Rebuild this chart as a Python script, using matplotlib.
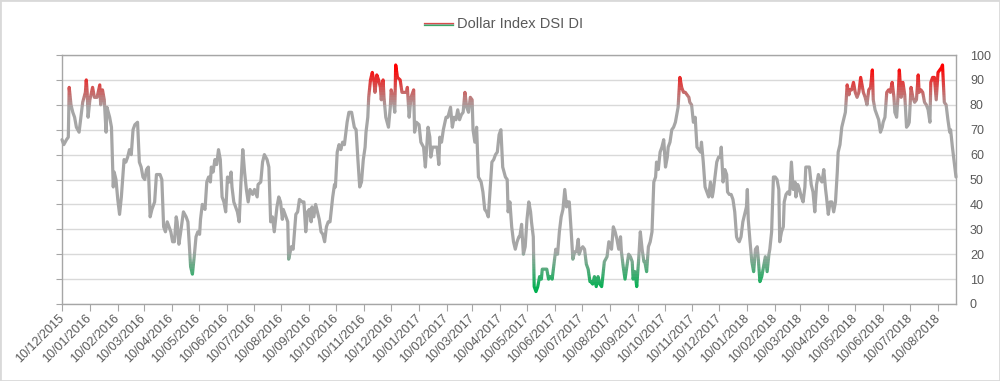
import pandas as pd
import matplotlib
matplotlib.use('Agg')
import matplotlib.pyplot as plt
import matplotlib.dates as mdates
from matplotlib.colors import LinearSegmentedColormap
from matplotlib.transforms import Bbox, TransformedBbox
from matplotlib.patches import Rectangle
from matplotlib.lines import Line2D

plt.rcParams['font.family'] = ['Liberation Sans', 'DejaVu Sans']

# serie: dias desde 10/12/2015 e valor do indice
start_date = '2015-12-10'

day_offset = [
    0, 2, 5, 7, 8, 10, 12, 14, 16, 19, 21, 23, 26, 27, 28, 29, 31, 34, 36, 39, 42, 43, 45, 47, 49, 50, 53, 55,
    57, 58, 60, 62, 64, 66, 69, 71, 73, 75, 77, 79, 81, 84, 86, 88, 90, 92, 94, 96, 98, 100, 103, 105, 109, 111,
    113, 115, 117, 119, 121, 123, 125, 127, 128, 130, 132, 135, 138, 140, 142, 143, 145, 147, 149, 151, 153, 154,
    156, 159, 161, 163, 165, 166, 168, 170,
    172, 174, 176, 178, 180, 182, 184, 186, 188, 189, 191, 193, 195, 197, 199, 201, 203, 205, 207, 209, 212, 214,
    217, 218, 221, 223, 225, 228, 230, 232, 234, 236, 239, 241, 243, 245, 246, 248, 251, 252, 255, 257, 260, 262,
    264, 267, 269, 271, 273, 275, 277, 278, 280, 282, 284, 286, 288, 290, 292, 294, 296, 298, 301, 303, 304, 306,
    308, 310, 312, 314, 317, 319, 322, 325, 327, 329, 331, 333, 335, 337,
    338, 340, 341, 343, 345, 347, 348, 350, 352, 354, 355, 357, 358, 360, 363, 365, 366, 368, 370, 371, 373, 376,
    378, 380, 383, 384, 386, 388, 391, 392, 394, 397, 399, 402, 404, 407, 409, 410, 412, 414, 417, 419, 420, 422,
    424, 427, 429, 432, 434, 436, 438, 440, 442, 444, 446, 448, 450, 452, 454, 456, 457, 459, 461, 463, 466, 468,
    470, 472, 474, 476, 478, 480, 482, 484, 486, 488, 490, 493, 495, 496, 498, 500, 502, 504,
    506, 508, 509, 511, 513, 515, 517, 519, 521, 522, 524, 525, 527, 529, 531, 533, 534, 536, 539, 541, 543, 545,
    548, 549, 551, 553, 555, 557, 559, 561, 562, 564, 566, 568, 570, 572, 574, 575, 577, 579, 581, 583, 585, 587,
    588, 590, 592, 594, 596, 598, 600, 601, 603, 606, 608, 610, 611, 613, 615, 617, 619, 621, 622, 624, 626, 628,
    630, 632, 634, 635, 637, 639, 641, 643, 645, 647, 648, 650, 652, 654, 656, 658, 660, 661, 663, 665, 667, 669,
    671,
    673, 674, 676, 678, 680, 682, 684, 685, 687, 689, 691, 693, 695, 697, 698, 700, 702, 704, 706, 708, 710, 711,
    713, 715, 717, 719, 721, 723, 724, 726, 728, 730, 732, 733, 735, 737, 739, 740, 742, 744, 746, 748, 750, 751,
    753, 755, 757, 759, 761, 762, 763, 765, 767, 769, 771, 773, 774, 776, 778, 780, 782, 784, 786, 787, 789, 791,
    793, 795, 797, 798, 800, 802, 803, 805, 807, 809, 811, 813, 815, 816, 818, 820, 822, 824, 826, 827, 829, 831,
    833, 835, 837,
    839, 841, 843, 845, 847, 849, 850, 852, 854, 856, 858, 860, 862, 863, 865, 867, 869, 871, 873, 875, 876, 878,
    880, 882, 884, 886, 888, 889, 891, 893, 895, 897, 899, 901, 902, 904, 906, 908, 910, 912, 913, 915, 917, 919,
    921, 923, 925, 926, 928, 930, 931, 933, 935, 937, 939, 941, 942, 944, 946, 948, 950, 952, 953, 955, 957, 959,
    961, 963, 965, 966, 968, 970, 972, 974, 976, 978, 979, 981, 983, 985, 987, 988, 990, 992, 994,
]

dsi = [
    66, 64, 66, 67, 87, 80, 77, 75, 71, 69, 75, 81, 85, 90, 85, 75, 82, 87, 83, 83, 88, 80, 86, 82, 69, 79, 75, 71,
    47, 53, 50, 42, 36, 43, 58, 57, 59, 62, 60, 70, 72, 73, 57, 55, 51, 50, 54, 55, 35, 38, 41, 52, 52, 50,
    31, 29, 33, 31, 29, 25, 25, 35, 33, 24, 29, 37, 35, 33, 21, 15, 12, 19, 27, 29, 28, 34,
    40, 38, 49, 51, 49, 55, 53, 58,
    56, 62, 58, 43, 41, 37, 51, 49, 53, 47, 41, 39, 37, 33, 49, 62, 53, 46, 41, 46, 44, 46,
    43, 48, 49, 57, 60, 58, 55, 33, 35, 29, 39, 43, 41, 34, 38, 36, 33, 18, 23, 22, 36, 37,
    42, 41, 41, 29, 37, 38, 33, 39, 35, 40, 37, 34, 29, 28, 25, 31, 33, 33, 43, 48, 47, 61,
    64, 62, 65, 64, 73, 77, 77, 71, 70, 58, 47, 49, 58, 63,
    69, 75, 83, 90, 93, 89, 85, 92, 90, 87, 82, 90, 83, 75, 71, 79, 86, 83, 77, 96, 91, 90,
    85, 85, 85, 87, 75, 83, 86, 69, 73, 72, 65, 63, 55, 71, 67, 59, 63, 63, 63, 56, 67, 65,
    70, 75, 75, 79, 71, 75, 74, 78, 74, 76, 77, 85, 79, 77, 83, 82, 70, 65, 71, 51, 49, 45,
    38, 37, 35, 46, 57, 58, 60, 61, 68, 70, 55, 51, 50, 37, 41, 31, 25, 22,
    25, 27, 27, 32, 20, 23, 34, 41, 37, 33, 27, 7, 5, 7, 11, 10, 14, 14, 14, 10, 11, 10,
    19, 22, 20, 29, 35, 38, 46, 39, 41, 41, 30, 18, 21, 21, 26, 20, 22, 23, 22, 16, 14, 9,
    9, 8, 11, 7, 11, 8, 7, 10, 17, 19, 25, 23, 22, 31, 29, 26, 22, 27, 21, 15, 10, 15,
    20, 19, 17, 10, 13, 7, 17, 29, 22, 17, 17, 13, 23, 25, 29, 49, 51, 57, 54, 61, 63, 66,
    55,
    59, 63, 65, 70, 71, 73, 77, 79, 91, 87, 85, 85, 84, 83, 81, 80, 73, 75, 63, 62, 61, 65,
    57, 47, 45, 43, 49, 43, 45, 51, 57, 59, 59, 63, 49, 54, 52, 45, 44, 44, 42, 37, 27, 26,
    25, 27, 33, 36, 39, 46, 34, 25, 17, 13, 22, 23, 19, 9, 11, 15, 19, 13, 20, 22, 29, 51,
    51, 50, 46, 25, 29, 31, 41, 44, 45, 44, 57, 46, 49, 43, 48, 46, 43, 41, 47, 55, 55, 55,
    48, 45, 37,
    48, 52, 50, 49, 54, 46, 43, 36, 41, 41, 37, 41, 53, 61, 64, 71, 74, 77, 88, 84, 86, 86,
    89, 85, 83, 85, 91, 89, 85, 83, 80, 86, 87, 94, 82, 78, 76, 74, 69, 71, 73, 75, 85, 86,
    85, 89, 83, 77, 75, 86, 94, 83, 89, 84, 71, 72, 73, 87, 83, 81, 82, 92, 85, 86, 85, 81,
    80, 78, 73, 89, 91, 91, 82, 93, 94, 95, 96, 81, 80, 74, 69, 70, 63, 57, 51,
]

serie = 'Dollar Index DSI DI'

datas = pd.Timestamp(start_date) + pd.to_timedelta(day_offset, unit='D')
tick_dates = pd.date_range('2015-12-10', '2018-08-10', freq=pd.DateOffset(months=1))

# cores: verde em baixo, cinza no meio, vermelho em cima
cmap = LinearSegmentedColormap.from_list('dsi', [
    (0.0, '#00B050'), (0.06, '#00B050'), (0.21, '#A6A6A6'),
    (0.79, '#A6A6A6'), (0.95, '#FF0000'), (1.0, '#FF0000')])

fig = plt.figure(figsize=(10, 3.81), dpi=100)
ax = fig.add_axes([0.062, 0.2021, 0.894, 0.6535])

ax.set_xlim(datas[0], datas[-1])
ax.set_ylim(0, 100)

# linha desenhada por faixas horizontais para imitar o degradê do Excel
x0 = mdates.date2num(datas[0]) - 30
x1 = mdates.date2num(datas[-1]) + 30
for lo in range(0, 100):
    hi = lo + 1
    ylo = -10 if lo == 0 else lo
    yhi = 110 if hi == 100 else hi
    ln, = ax.plot(datas, dsi, color=cmap((lo + 0.5) / 100), lw=2.3,
                  solid_joinstyle='round', solid_capstyle='round', zorder=3)
    ln.set_clip_box(TransformedBbox(Bbox([[x0, ylo], [x1, yhi]]), ax.transData))

ax.set_yticks(range(0, 101, 10))
ax.grid(axis='y', color='#D9D9D9', lw=1)
ax.set_axisbelow(True)

for s in ax.spines.values():
    s.set_color('#A6A6A6')
    s.set_linewidth(1)

ax.tick_params(axis='y', left=True, right=False, labelleft=False, labelright=True,
               direction='out', length=4, color='#A6A6A6', labelsize=9,
               labelcolor='#595959', pad=6)

ax.set_xticks(tick_dates)
ax.xaxis.set_major_formatter(mdates.DateFormatter('%d/%m/%Y'))
ax.tick_params(axis='x', direction='out', length=5, color='#A6A6A6', labelsize=9,
               labelcolor='#595959', pad=4)
for lbl in ax.get_xticklabels():
    lbl.set_rotation(45)
    lbl.set_ha('right')
    lbl.set_va('center')
    lbl.set_rotation_mode('anchor')

# legenda no topo
ly = 1 - 24 / 381
px = 1 / 381
for dy, c in [(1.1, '#E04040'), (0, '#A6A6A6'), (-1.1, '#3CA865')]:
    fig.add_artist(Line2D([0.424, 0.453], [ly + dy * px, ly + dy * px], color=c,
                          lw=0.9, transform=fig.transFigure))
fig.text(0.457, ly, serie, fontsize=10.5, color='#595959', va='center', ha='left')

# borda do grafico
fig.add_artist(Rectangle((0, 0), 1, 1, transform=fig.transFigure, fill=False,
                         edgecolor='#D9D9D9', lw=2))

fig.savefig('out.png', dpi=100)
